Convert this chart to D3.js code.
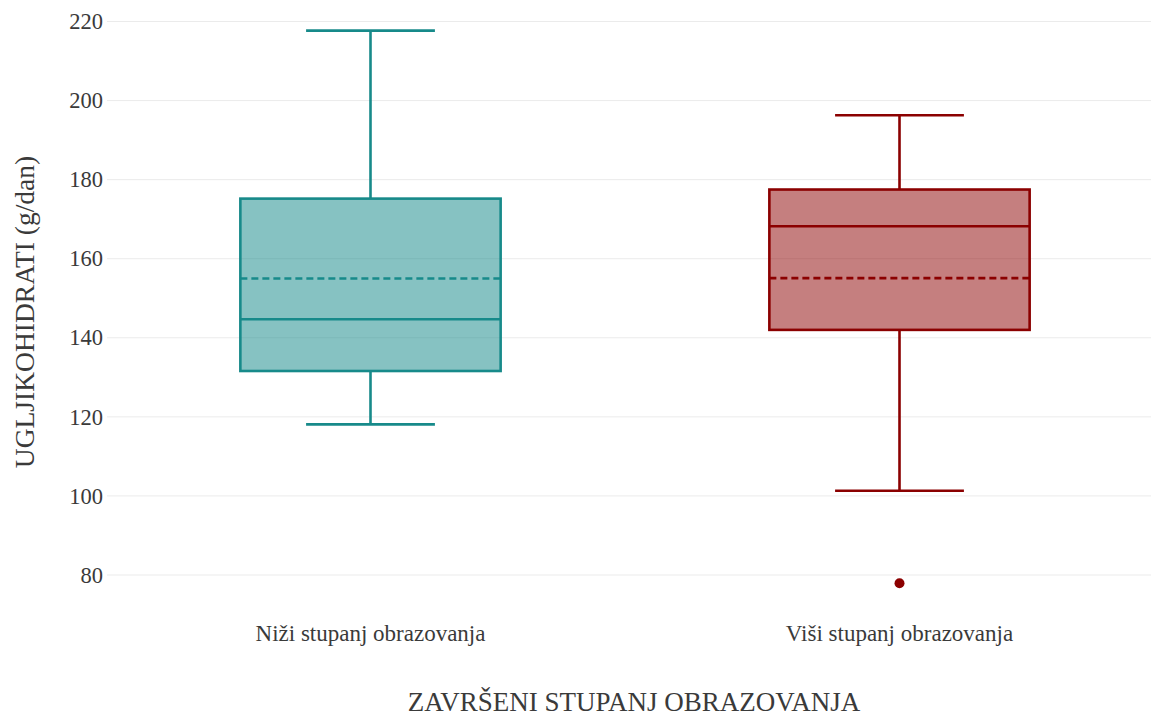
<!DOCTYPE html>
<html><head><meta charset="utf-8">
<script src="https://cdn.jsdelivr.net/npm/d3@7"></script>
<style>body{margin:0;background:#fff}svg{display:block}</style>
</head><body>
<script>
const categories = ["Niži stupanj obrazovanja", "Viši stupanj obrazovanja"];
const lowerWhisker = [118.1, 101.3];
const q1 = [131.6, 142.0];
const median = [144.7, 168.2];
const q3 = [175.2, 177.5];
const upperWhisker = [217.7, 196.3];
const mean = [155.0, 155.1];
const outliers = [[], [77.9]];
const yTicks = [80, 100, 120, 140, 160, 180, 200, 220];
const strokeColors = ["#178a8a", "#8b0000"];
const fillColors = ["rgba(23,138,138,0.52)", "rgba(139,0,0,0.5)"];

const W = 1151, H = 717;
const svg = d3.select("body").append("svg").attr("width", W).attr("height", H);
const font = "'Liberation Serif','Times New Roman',serif";
const textColor = "#3a3a3a";

const x = d3.scaleBand().domain(categories).range([106, 1164]).padding(0);
const y = d3.scaleLinear().domain([80, 220]).range([575, 21.5]);

// grid
svg.append("g").selectAll("line").data(yTicks).join("line")
  .attr("x1", 107).attr("x2", W).attr("y1", d => y(d)).attr("y2", d => y(d))
  .attr("stroke", "#ebebeb").attr("stroke-width", 1);

// y axis labels
const yAxis = d3.axisLeft(y).tickValues(yTicks).tickSize(0).tickPadding(0);
const gy = svg.append("g").attr("transform", "translate(103,0)").call(yAxis);
gy.select(".domain").remove();
gy.selectAll("text").attr("font-family", font).attr("font-size", 22.5).attr("fill", textColor);

// x axis labels
const xAxis = d3.axisBottom(x).tickSize(0).tickPadding(0);
const gx = svg.append("g").attr("transform", "translate(0,641)").call(xAxis);
gx.select(".domain").remove();
gx.selectAll("text").attr("dy", 0).attr("font-family", font).attr("font-size", 23).attr("fill", textColor);

// titles
svg.append("text").attr("x", 634).attr("y", 711).attr("text-anchor", "middle")
  .attr("font-family", font).attr("font-size", 27).attr("fill", textColor)
  .text("ZAVRŠENI STUPANJ OBRAZOVANJA");
svg.append("text").attr("transform", "translate(34,312) rotate(-90)").attr("text-anchor", "middle")
  .attr("font-family", font).attr("font-size", 27.5).attr("fill", textColor)
  .text("UGLJIKOHIDRATI (g/dan)");

const bw = x.bandwidth() * 0.492;
const cw = bw * 0.495;
const sw = 2.6;

categories.forEach((c, i) => {
  const cx = x(c) + x.bandwidth() / 2;
  const g = svg.append("g");
  const col = strokeColors[i];
  // whiskers
  g.append("line").attr("x1", cx).attr("x2", cx).attr("y1", y(q3[i])).attr("y2", y(upperWhisker[i]))
    .attr("stroke", col).attr("stroke-width", sw);
  g.append("line").attr("x1", cx).attr("x2", cx).attr("y1", y(q1[i])).attr("y2", y(lowerWhisker[i]))
    .attr("stroke", col).attr("stroke-width", sw);
  [upperWhisker[i], lowerWhisker[i]].forEach(v => {
    g.append("line").attr("x1", cx - cw / 2).attr("x2", cx + cw / 2).attr("y1", y(v)).attr("y2", y(v))
      .attr("stroke", col).attr("stroke-width", sw);
  });
  // box
  g.append("rect").attr("x", cx - bw / 2).attr("width", bw)
    .attr("y", y(q3[i])).attr("height", y(q1[i]) - y(q3[i]))
    .attr("fill", fillColors[i]).attr("stroke", col).attr("stroke-width", sw);
  // median
  g.append("line").attr("x1", cx - bw / 2).attr("x2", cx + bw / 2).attr("y1", y(median[i])).attr("y2", y(median[i]))
    .attr("stroke", col).attr("stroke-width", sw);
  // mean
  g.append("line").attr("x1", cx - bw / 2).attr("x2", cx + bw / 2).attr("y1", y(mean[i])).attr("y2", y(mean[i]))
    .attr("stroke", col).attr("stroke-width", sw).attr("stroke-dasharray", "7,4");
  // outliers
  g.selectAll("circle").data(outliers[i]).join("circle")
    .attr("cx", cx).attr("cy", d => y(d)).attr("r", 5).attr("fill", col);
});
</script>
</body></html>
